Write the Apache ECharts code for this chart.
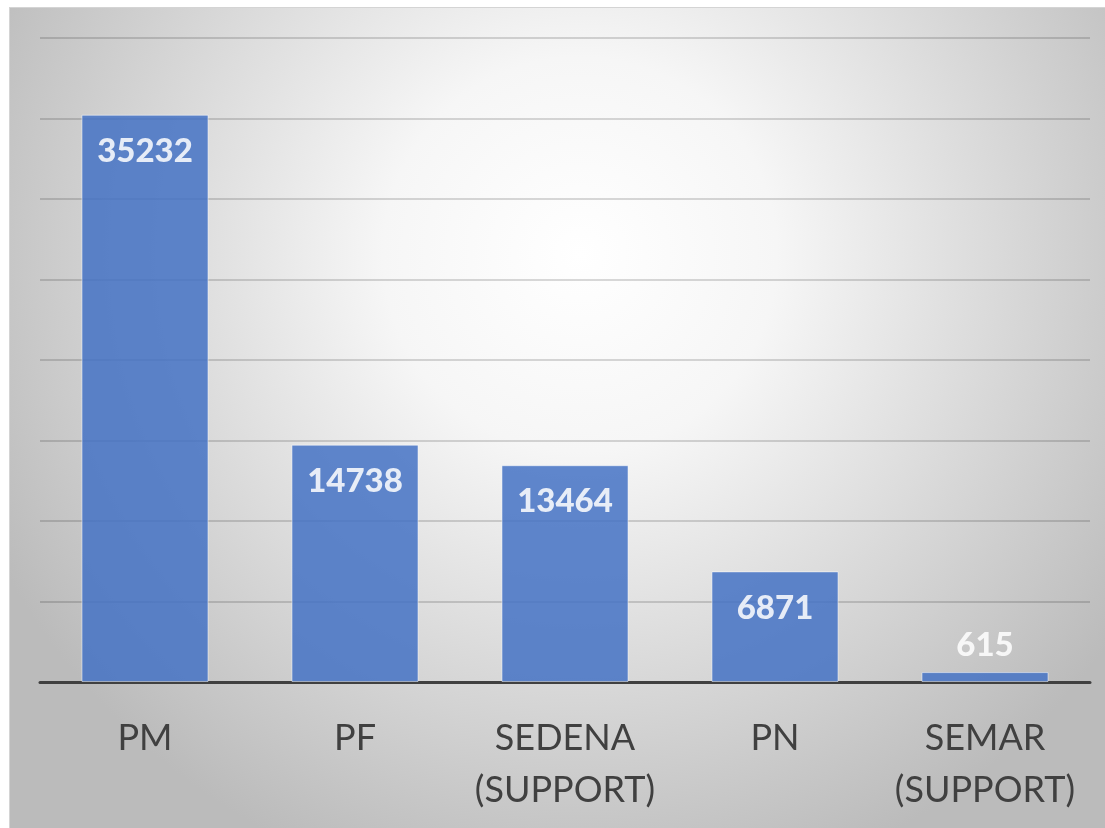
<!DOCTYPE html>
<html>
<head>
<meta charset="utf-8">
<script src="https://cdn.jsdelivr.net/npm/echarts@6/dist/echarts.min.js"></script>
<style>
  html, body { margin: 0; padding: 0; background: #fff; }
  #chart {
    position: absolute;
    left: 9px;
    top: 7px;
    width: 1096px;
    height: 821px;
    border-top: 1px solid #d4d4d4;
    border-left: 1px solid #d4d4d4;
  }
</style>
</head>
<body>
<div id="chart"></div>
<script>
const categories = ['PM', 'PF', 'SEDENA\n(SUPPORT)', 'PN', 'SEMAR\n(SUPPORT)'];
const values = [35232, 14738, 13464, 6871, 615];

const font = 'Lato, "Open Sans", sans-serif';

const chart = echarts.init(document.getElementById('chart'));

const option = {
  backgroundColor: new echarts.graphic.RadialGradient(0.52, 0.3, 0.8, [
    {offset: 0, color: '#ffffff'},
    {offset: 0.3, color: '#f6f6f6'},
    {offset: 1, color: '#bbbbbb'}
  ]),
  grid: {
    left: 30,
    right: 16,
    top: 30,
    bottom: 147
  },
  xAxis: {
    type: 'category',
    data: categories,
    axisTick: {show: false},
    axisLine: {
      lineStyle: {color: '#404040', width: 3}
    },
    axisLabel: {
      interval: 0,
      color: '#404040',
      fontFamily: font,
      fontSize: 36,
      lineHeight: 52,
      margin: 30
    }
  },
  yAxis: {
    type: 'value',
    min: 0,
    max: 40000,
    interval: 5000,
    axisLabel: {show: false},
    axisLine: {show: false},
    axisTick: {show: false},
    splitLine: {
      lineStyle: {color: 'rgba(0,0,0,0.2)', width: 1.5}
    }
  },
  series: [
    {
      type: 'bar',
      data: values.map(function (v, i) {
        // last bar too small, label sits above it
        if (i === values.length - 1) {
          return {value: v, label: {position: 'top', distance: 10}};
        }
        return v;
      }),
      barCategoryGap: '39.5%',
      itemStyle: {
        color: '#4472c4',
        opacity: 0.85,
        borderColor: 'rgba(255,255,255,0.6)',
        borderWidth: 1
      },
      label: {
        show: true,
        position: 'insideTop',
        distance: 20,
        color: '#ffffff',
        fontFamily: font,
        fontWeight: 900,
        fontSize: 33
      }
    }
  ]
};

chart.setOption(option);
</script>
</body>
</html>
